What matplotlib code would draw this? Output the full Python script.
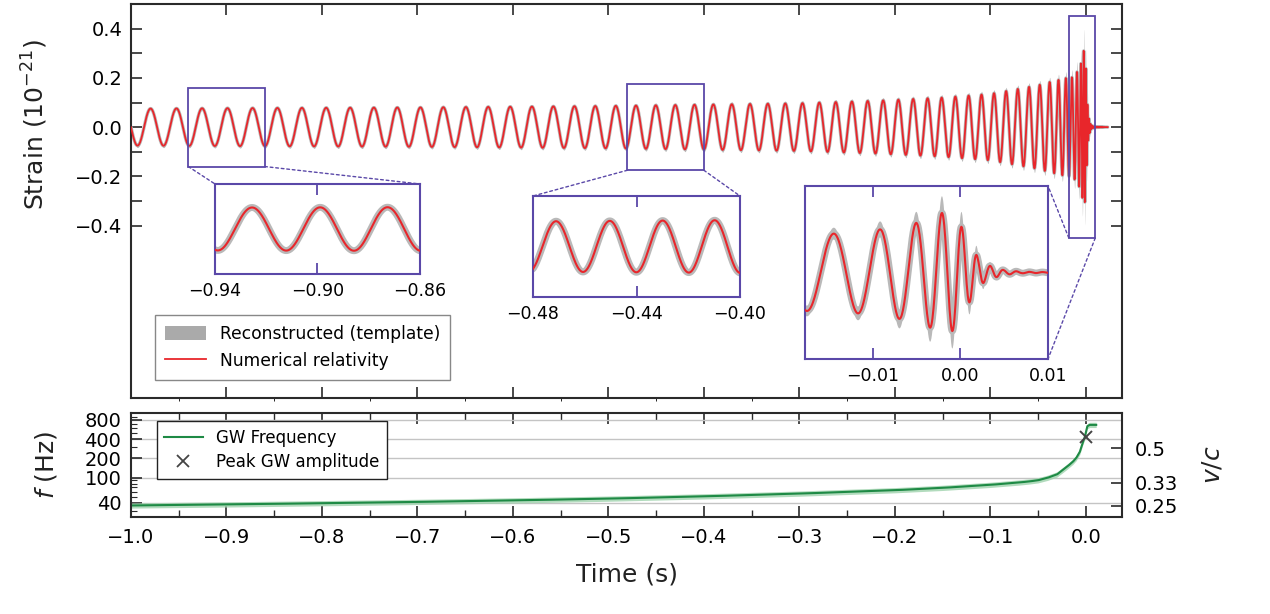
"""plot.py
Strain waveform (reconstructed template vs numerical relativity) with zoom insets,
plus GW frequency track on a log axis with v/c on the right.
"""
import numpy as np
import matplotlib
matplotlib.use("Agg")
import matplotlib.pyplot as plt
from matplotlib.patches import Rectangle, Patch, ConnectionPatch
from matplotlib.lines import Line2D
from matplotlib.ticker import MultipleLocator, FixedLocator, NullLocator, ScalarFormatter

# ── Data ──────────────────────────────────────────────────────────────────────
# GW frequency track, Hz (bottom panel and cycle spacing of the strain)
F_TIME = [-1.00, -0.90, -0.80, -0.70, -0.60, -0.50, -0.40, -0.30, -0.20, -0.15,
          -0.10, -0.07, -0.06, -0.05, -0.04, -0.03, -0.025, -0.02, -0.0136, -0.010,
          -0.0063, -0.003, -0.001, 0.000, 0.0017, 0.004, 0.011]
F_HZ   = [36.4, 37.8, 39.5, 41.4, 43.7, 46.6, 50.6, 55.9, 63.2, 68.8,
          76.7, 83.5, 86.5, 90.5, 99.0, 112.0, 128.0, 146.0, 176.0, 202.0,
          250.0, 360.0, 430.0, 500.0, 640.0, 670.0, 670.0]
F_END = 0.011              # frequency track stops here

# strain envelope (10^-21) and relative half-width of the reconstructed band
A_TIME   = [-1.00, -0.90, -0.70, -0.50, -0.30, -0.216, -0.15, -0.10, -0.05, -0.041,
            -0.02, -0.015, -0.0097, -0.0052, -0.0022, -0.001, -0.0002, 0.001, 0.002,
            0.003, 0.005, 0.007, 0.010, 0.023]
A_STRAIN = [0.075, 0.077, 0.080, 0.086, 0.097, 0.108, 0.120, 0.135, 0.170, 0.180,
            0.200, 0.200, 0.220, 0.255, 0.310, 0.310, 0.270, 0.160, 0.080,
            0.040, 0.012, 0.004, 0.002, 0.000]
A_SPREAD = [0.10, 0.10, 0.10, 0.10, 0.10, 0.10, 0.10, 0.10, 0.10, 0.10,
            0.13, 0.15, 0.18, 0.22, 0.28, 0.30, 0.30, 0.40, 0.55,
            0.60, 0.60, 0.60, 0.60, 0.60]
PEAK_ANCHOR = -0.4711      # a strain maximum seen in the middle inset

# peak GW amplitude marker
T_PEAK, F_PEAK = 0.0, 440.0

# v/c ticks on the right of the frequency panel (v/c = 0.5 sits at ~290 Hz)
VC_TICKS  = [0.25, 0.33, 0.5]
VC_LABELS = ["0.25", "0.33", "0.5"]
F_AT_HALF = 290.0

F_TICKS = [40, 100, 200, 400, 800]
STRAIN_TICKS  = [-0.4, -0.3, -0.2, -0.1, 0.0, 0.1, 0.2, 0.3, 0.4]
STRAIN_LABELS = ["\u22120.4", "", "\u22120.2", "", "0.0", "", "0.2", "", "0.4"]

# zoom insets: (x-range, y-range, ticks, tick labels)
INSETS = [
    ((-0.94, -0.86), (-0.16, 0.16), [-0.94, -0.90, -0.86], ["\u22120.94", "\u22120.90", "\u22120.86"]),
    ((-0.48, -0.40), (-0.175, 0.175), [-0.48, -0.44, -0.40], ["\u22120.48", "\u22120.44", "\u22120.40"]),
    ((-0.0177, 0.0100), (-0.45, 0.45), [-0.01, 0.00, 0.01], ["\u22120.01", "0.00", "0.01"]),
]

# ── Style ─────────────────────────────────────────────────────────────────────
RED    = "#e8262b"
GREY   = "#b9b9b9"
GREEN  = "#1e8a45"
LGREEN = "#9fd3ad"
PURPLE = "#5a48a8"
SPINE  = "#2a2a2a"

W, H = 1270, 614
plt.rcParams["font.family"] = ["DejaVu Sans"]

def px_rect(x0, y0, x1, y1):
    """pixel box (top-left origin) -> figure fraction rect"""
    return [x0 / W, 1 - y1 / H, (x1 - x0) / W, (y1 - y0) / H]

# ── Waveform built from the read frequency track & envelope ──────────────────
dt = 1.0 / 16384
t = np.arange(-1.0, 0.023, dt)
f_t = np.exp(np.interp(t, F_TIME, np.log(F_HZ)))
phase = 2 * np.pi * np.cumsum(f_t) * dt
phase -= np.interp(PEAK_ANCHOR, t, phase)
amp = np.interp(t, A_TIME, A_STRAIN)
spread = np.interp(t, A_TIME, A_SPREAD)
h = amp * np.cos(phase)
h_lo, h_hi = h * (1 - spread), h * (1 + spread)

def draw_strain(ax, grey_lw, red_lw):
    ax.fill_between(t, h_lo, h_hi, color=GREY, lw=0, zorder=1)
    ax.plot(t, h, color=GREY, lw=grey_lw, solid_capstyle="round", zorder=2)
    ax.plot(t, h, color=RED, lw=red_lw, zorder=3)

fig = plt.figure(figsize=(W / 100, H / 100), dpi=100)
ax = fig.add_axes(px_rect(131, 4, 1122, 398))
axf = fig.add_axes(px_rect(131, 413, 1122, 517), sharex=ax)

# ── Top panel: strain ─────────────────────────────────────────────────────────
draw_strain(ax, 2.4, 1.3)
ax.set_xlim(-1.0, 0.038)
ax.set_ylim(-1.1, 0.5)
ax.yaxis.set_major_locator(FixedLocator(STRAIN_TICKS))
ax.set_yticklabels(STRAIN_LABELS)
ax.xaxis.set_major_locator(MultipleLocator(0.05))
ax.tick_params(direction="in", length=8, width=1.2, color=SPINE, labelsize=14,
               top=True, right=True, labelbottom=False, pad=6)
ax.set_ylabel("Strain $(10^{-21})$", fontsize=18, color="#222222")
ax.yaxis.set_label_coords(-0.082, 0.693)
for sp in ax.spines.values():
    sp.set_color(SPINE)
    sp.set_linewidth(1.5)

leg = ax.legend(handles=[Patch(facecolor="#aaaaaa", edgecolor="none"),
                         Line2D([], [], color=RED, lw=1.3)],
                labels=["Reconstructed (template)", "Numerical relativity"],
                loc="lower left", bbox_to_anchor=(0.024, 0.046), borderaxespad=0,
                fontsize=12.3, fancybox=False, framealpha=1, edgecolor="#888888",
                handlelength=2.4, handleheight=0.9, borderpad=0.6, labelspacing=0.5)
leg.get_frame().set_linewidth(1.0)

# ── Insets ────────────────────────────────────────────────────────────────────
inset_px = [(215, 184, 420, 274), (533, 196, 740, 297), (805, 186, 1048, 359)]
links = [
    [((0, 0), (0, 1)), ((1, 0), (1, 1))],   # (corner of box in main, corner of inset)
    [((0, 0), (0, 1)), ((1, 0), (1, 1))],
    [((0, 0), (1, 1)), ((1, 0), (1, 0))],
]
for (xl, yl, ticks, labels), box, link in zip(INSETS, inset_px, links):
    axi = fig.add_axes(px_rect(*box))
    draw_strain(axi, 5.0, 1.5)
    axi.set_xlim(*xl)
    axi.set_ylim(*yl)
    axi.set_xticks(ticks)
    axi.set_xticklabels(labels)
    axi.yaxis.set_major_locator(NullLocator())
    axi.tick_params(axis="x", direction="in", length=8, width=1.3, color=PURPLE,
                    labelsize=12.5, top=True, pad=6)
    for sp in axi.spines.values():
        sp.set_color(PURPLE)
        sp.set_linewidth(1.5)
    ax.add_patch(Rectangle((xl[0], yl[0]), xl[1] - xl[0], yl[1] - yl[0],
                           fill=False, edgecolor=PURPLE, lw=1.3, zorder=5))
    for (cx, cy), inset_corner in link:
        con = ConnectionPatch(xyA=(xl[cx], yl[cy]), coordsA=ax.transData,
                              xyB=inset_corner, coordsB=axi.transAxes,
                              color=PURPLE, lw=1.0, linestyle=(0, (2, 2)))
        fig.add_artist(con)

# ── Bottom panel: frequency ──────────────────────────────────────────────────
keep = t <= F_END
axf.fill_between(t[keep], f_t[keep] / 1.1, f_t[keep] * 1.1, color=LGREEN, lw=0, alpha=0.8)
axf.plot(t[keep], f_t[keep], color=GREEN, lw=1.5)
axf.plot([T_PEAK], [F_PEAK], "x", color="#444444", ms=9, mew=1.4)
axf.set_yscale("log")
axf.set_ylim(24, 1030)
axf.yaxis.set_major_locator(FixedLocator(F_TICKS))
axf.yaxis.set_major_formatter(ScalarFormatter())
axf.yaxis.grid(True, which="major", color="#c4c4c4", lw=1.0)
axf.set_axisbelow(True)
axf.xaxis.set_major_locator(MultipleLocator(0.1))
axf.xaxis.set_minor_locator(MultipleLocator(0.05))
axf.tick_params(which="both", direction="in", color=SPINE, top=True, labelsize=14)
axf.tick_params(axis="x", which="major", length=8, width=1.2, pad=8)
axf.tick_params(axis="x", which="minor", length=5, width=1.0)
axf.tick_params(axis="y", which="major", length=8, width=1.2, pad=7)
axf.tick_params(axis="y", which="minor", length=4, width=0.8)
axf.set_xlim(-1.0, 0.038)
axf.set_xlabel("Time (s)", fontsize=18, color="#222222")
axf.xaxis.set_label_coords(0.5, -0.44)
axf.set_ylabel("$f$ (Hz)", fontsize=18, color="#222222")
axf.yaxis.set_label_coords(-0.073, 0.5)
for sp in axf.spines.values():
    sp.set_color(SPINE)
    sp.set_linewidth(1.5)

axv = axf.twinx()
axv.set_yscale("log")
axv.set_ylim(axf.get_ylim())
axv.yaxis.set_major_locator(FixedLocator([F_AT_HALF * (v / 0.5) ** 3 for v in VC_TICKS]))
axv.set_yticklabels(VC_LABELS)
axv.yaxis.set_minor_locator(NullLocator())
axv.tick_params(direction="in", length=8, width=1.2, color=SPINE, labelsize=14, pad=9)
axv.set_ylabel("$v/c$", fontsize=18, color="#222222")
axv.yaxis.set_label_coords(1.079, 0.5)
for sp in axv.spines.values():
    sp.set_visible(False)

leg2 = axf.legend(handles=[Line2D([], [], color=GREEN, lw=1.5),
                           Line2D([], [], color="#444444", marker="x", ls="none", ms=8, mew=1.3)],
                  labels=["GW Frequency", "Peak GW amplitude"],
                  loc="upper left", bbox_to_anchor=(0.026, 0.923), borderaxespad=0,
                  fontsize=12, fancybox=False, framealpha=1, edgecolor="#222222",
                  handlelength=2.3, borderpad=0.45, labelspacing=0.4)
leg2.get_frame().set_linewidth(1.0)

fig.savefig("out.png", dpi=100)
